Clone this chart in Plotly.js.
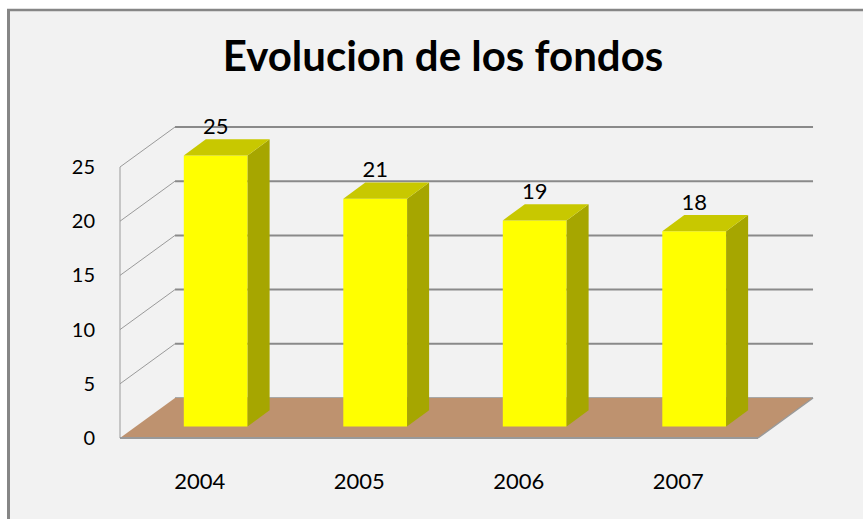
<!DOCTYPE html>
<html>
<head>
<meta charset="utf-8">
<script src="https://cdn.plot.ly/plotly-3.0.1.min.js"></script>
<style>
  html, body { margin: 0; padding: 0; background: #ffffff; }
  #chart { width: 863px; height: 519px; }
</style>
</head>
<body>
<div id="chart"></div>
<script>
// ---- data ----
const categories = ['2004', '2005', '2006', '2007'];
const values = [25, 21, 19, 18];
const yTickValues = [0, 5, 10, 15, 20, 25];
const yTickLabels = ['0', '5', '10', '15', '20', '25'];
const chartTitle = 'Evolucion de los fondos';

// ---- 3D look (style constants) ----
const WALL_DX = 0.345, WALL_DY = 3.69;   // depth of the walls in axis units
const BAR_DX = 0.10, BAR_DY = 1.07;      // bar front plane offset
const DEPTH_DX = 0.138, DEPTH_DY = 1.5;  // bar depth
const HALF_W = 0.2;

const L = 100, T = 110, W = 740, H = 350;   // plot area in px
const xRange = [-0.6254, 4.0141];
const yRange = [-2.0295, 30.258];
const fx = px => (px - L) / W;
const fy = py => (T + H - py) / H;

const idx = categories.map((c, i) => i);
const xMin = -0.5, xMax = categories.length - 0.5;

const shapes = [];
// outside white area + border
shapes.push({type: 'rect', xref: 'paper', yref: 'paper', x0: fx(0), x1: fx(863), y0: fy(0), y1: fy(9), fillcolor: '#ffffff', line: {width: 0}, layer: 'below'});
shapes.push({type: 'rect', xref: 'paper', yref: 'paper', x0: fx(0), x1: fx(7), y0: fy(0), y1: fy(519), fillcolor: '#ffffff', line: {width: 0}, layer: 'below'});
shapes.push({type: 'line', xref: 'paper', yref: 'paper', x0: fx(7), x1: fx(863), y0: fy(10), y1: fy(10), line: {color: '#868686', width: 2.5}});
shapes.push({type: 'line', xref: 'paper', yref: 'paper', x0: fx(8.5), x1: fx(8.5), y0: fy(9), y1: fy(519), line: {color: '#868686', width: 3}});

// gridlines: side wall diagonal + back wall horizontal
yTickValues.filter(v => v > 0).forEach(v => {
  shapes.push({type: 'line', x0: xMin, y0: v, x1: xMin + WALL_DX, y1: v + WALL_DY, line: {color: '#9a9a9a', width: 1}, layer: 'below'});
  shapes.push({type: 'line', x0: xMin + WALL_DX, y0: v + WALL_DY, x1: xMax + WALL_DX, y1: v + WALL_DY, line: {color: '#8a8a8a', width: 2}, layer: 'below'});
});
// left wall front edge
shapes.push({type: 'line', x0: xMin, y0: 0, x1: xMin, y1: yTickValues[yTickValues.length - 1], line: {color: '#9a9a9a', width: 1}, layer: 'below'});
// floor back edge
shapes.push({type: 'line', x0: xMin + WALL_DX, y0: WALL_DY, x1: xMax + WALL_DX, y1: WALL_DY, line: {color: '#a8a8a8', width: 2}, layer: 'below'});
// floor
shapes.push({type: 'path',
  path: `M ${xMin},0 L ${xMax},0 L ${xMax + WALL_DX},${WALL_DY} L ${xMin + WALL_DX},${WALL_DY} Z`,
  fillcolor: '#be926f', line: {width: 0}, layer: 'below'});
shapes.push({type: 'line', x0: xMin, y0: 0, x1: xMax, y1: 0, line: {color: '#999999', width: 2}, layer: 'below'});
shapes.push({type: 'line', x0: xMax, y0: 0, x1: xMax + WALL_DX, y1: WALL_DY, line: {color: '#999999', width: 1.5}, layer: 'below'});

const traces = [];
// bar sides and tops
values.forEach((v, i) => {
  const cx = idx[i] + BAR_DX, b = BAR_DY, top = b + v;
  traces.push({type: 'scatter', mode: 'lines', fill: 'toself', fillcolor: '#a6a600',
    line: {width: 0, color: '#a6a600'}, hoverinfo: 'skip', showlegend: false,
    x: [cx + HALF_W, cx + HALF_W + DEPTH_DX, cx + HALF_W + DEPTH_DX, cx + HALF_W, cx + HALF_W],
    y: [b, b + DEPTH_DY, top + DEPTH_DY, top, b]});
  traces.push({type: 'scatter', mode: 'lines', fill: 'toself', fillcolor: '#c8c800',
    line: {width: 0, color: '#c8c800'}, hoverinfo: 'skip', showlegend: false,
    x: [cx - HALF_W, cx - HALF_W + DEPTH_DX, cx + HALF_W + DEPTH_DX, cx + HALF_W, cx - HALF_W],
    y: [top, top + DEPTH_DY, top + DEPTH_DY, top, top]});
});
// bar fronts
traces.push({type: 'bar', x: idx.map(i => i + BAR_DX), y: values, base: BAR_DY,
  width: HALF_W * 2, marker: {color: '#ffff00', line: {width: 0}}, showlegend: false, hoverinfo: 'skip'});
// data labels
traces.push({type: 'scatter', mode: 'text', x: idx.map(i => i + BAR_DX),
  y: values.map(v => v + BAR_DY + DEPTH_DY), text: values.map(String),
  textposition: 'top center', textfont: {family: 'Lato, sans-serif', size: 22, color: '#000000'},
  showlegend: false, hoverinfo: 'skip', cliponaxis: false});

const layout = {
  width: 863, height: 519,
  margin: {l: L, r: 863 - L - W, t: T, b: 519 - T - H, pad: 0},
  paper_bgcolor: '#f2f2f2', plot_bgcolor: 'rgba(0,0,0,0)',
  title: {text: chartTitle, font: {family: 'Lato, sans-serif', size: 42, color: '#000000', weight: 'bold'},
    x: 443 / 863, xanchor: 'center', xref: 'container', y: 1 - 56 / 519, yanchor: 'middle', yref: 'container'},
  xaxis: {range: xRange, tickvals: idx, ticktext: categories, showgrid: false, zeroline: false,
    showline: false, ticks: '', ticklabelstandoff: 6, fixedrange: true,
    tickfont: {family: 'Lato, sans-serif', size: 22, color: '#000000'}},
  yaxis: {range: yRange, tickvals: yTickValues, ticktext: yTickLabels, showgrid: false, zeroline: false,
    showline: false, ticks: '', ticklabelstandoff: 4, fixedrange: true,
    tickfont: {family: 'Lato, sans-serif', size: 20, color: '#000000'}},
  shapes: shapes,
  showlegend: false
};

Plotly.newPlot('chart', traces, layout, {staticPlot: true, displayModeBar: false});
</script>
</body>
</html>
